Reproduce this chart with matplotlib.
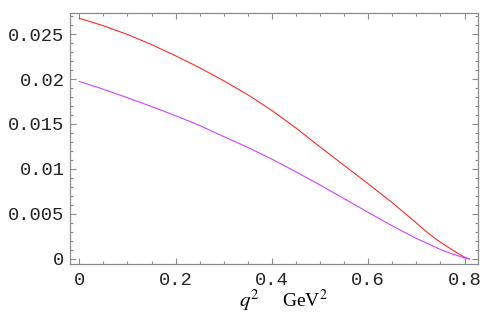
import matplotlib
matplotlib.use("Agg")
import matplotlib.pyplot as plt
from matplotlib.ticker import MultipleLocator, FixedLocator

# values
q2 = [0.0, 0.05, 0.10, 0.15, 0.20, 0.25, 0.30, 0.35, 0.40, 0.45, 0.50,
      0.55, 0.60, 0.65, 0.70, 0.725, 0.75, 0.775, 0.79, 0.80, 0.81]
red_vals = [0.02675, 0.02592, 0.02495, 0.02383, 0.02258, 0.02125, 0.01980, 0.01825,
            0.01650, 0.01455, 0.01245, 0.01040, 0.00835, 0.00625, 0.00400, 0.00285,
            0.00185, 0.00100, 0.00050, 0.00020, 0.0]
purple_vals = [0.01974, 0.01886, 0.01792, 0.01694, 0.01592, 0.01484, 0.01360, 0.01240,
               0.01110, 0.00968, 0.00822, 0.00670, 0.00517, 0.00368, 0.00228, 0.00168,
               0.00105, 0.00055, 0.00030, 0.00010, 0.0]

xticks = [0, 0.2, 0.4, 0.6, 0.8]
xticklabels = ["0", "0.2", "0.4", "0.6", "0.8"]
yticks = [0, 0.005, 0.01, 0.015, 0.02, 0.025]
yticklabels = ["0", "0.005", "0.01", "0.015", "0.02", "0.025"]

plt.rcParams['mathtext.fontset'] = 'stix'

fig = plt.figure(figsize=(4.84, 3.21), dpi=100)
ax = fig.add_axes([70 / 484, 57 / 321, 408 / 484, 251.3 / 321])

ax.plot(q2, red_vals, color='#ff2a2a', lw=0.8)
ax.plot(q2, purple_vals, color='#cc44ff', lw=0.8)

ax.set_xlim(-0.0193, 0.828)
ax.set_ylim(-0.00056, 0.02737)

frame_col = '#8c8c8c'
for s in ax.spines.values():
    s.set_color(frame_col)
    s.set_linewidth(0.9)

ax.xaxis.set_major_locator(FixedLocator(xticks))
ax.set_xticklabels(xticklabels)
ax.yaxis.set_major_locator(FixedLocator(yticks))
ax.set_yticklabels(yticklabels)
ax.xaxis.set_minor_locator(MultipleLocator(0.05))
ax.yaxis.set_minor_locator(MultipleLocator(0.001))

ax.tick_params(which='both', direction='in', top=True, right=True, color=frame_col,
               width=0.8)
ax.tick_params(which='major', length=4)
ax.tick_params(which='minor', length=2)
ax.tick_params(axis='x', which='major', pad=6)
ax.tick_params(axis='y', which='major', pad=4)
for lab in ax.get_xticklabels() + ax.get_yticklabels():
    lab.set_fontfamily('Liberation Mono')
    lab.set_fontsize(13.5)
    lab.set_color('#222222')

# x axis label, drawn as two pieces like the original
fig.text(239 / 484, 14 / 321, r'$q^2$', ha='left', va='baseline', fontsize=15)
fig.text(282 / 484, 14 / 321, r'GeV$^2$', ha='left', va='baseline', fontsize=14,
         fontfamily='Liberation Serif')

fig.savefig('out.png', dpi=100)
